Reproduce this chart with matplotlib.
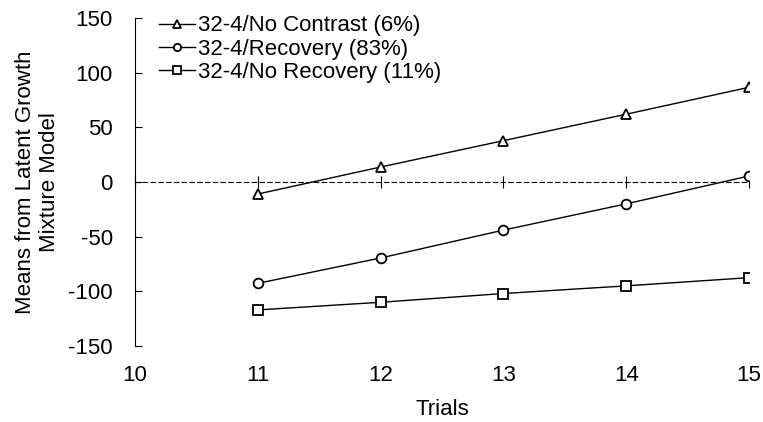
import matplotlib
matplotlib.use('Agg')
import matplotlib.pyplot as plt

plt.rcParams['font.family'] = ['Liberation Sans', 'DejaVu Sans']
plt.rcParams['axes.unicode_minus'] = False

trials = [11, 12, 13, 14, 15]
no_contrast = [-11, 13.7, 37.8, 62, 86.6]
recovery = [-92.7, -69.5, -44, -20, 5.5]
no_recovery = [-117, -110, -102, -95, -87.5]
labels = ['32-4/No Contrast (6%)', '32-4/Recovery (83%)', '32-4/No Recovery (11%)']
x_ticks = [10, 11, 12, 13, 14, 15]
y_ticks = [-150, -100, -50, 0, 50, 100, 150]

fig = plt.figure(figsize=(7.63, 4.22), dpi=100)
ax = fig.add_axes([135/763, 1 - 346/422, (749 - 135)/763, (346 - 18)/422])

for vals, mk, lab in zip([no_contrast, recovery, no_recovery], ['^', 'o', 's'], labels):
    ax.plot(trials, vals, color='black', lw=1, marker=mk, ms=7,
            mfc='white', mec='black', mew=1.3, label=lab)

ax.set_xlim(10, 15)
ax.set_ylim(-150, 150)
ax.set_yticks(y_ticks)
ax.set_xticks(x_ticks)

ax.spines['top'].set_visible(False)
ax.spines['right'].set_visible(False)
ax.spines['bottom'].set_position(('data', 0))
ax.spines['bottom'].set_linestyle((0, (4, 3)))
ax.spines['bottom'].set_linewidth(0.8)
ax.tick_params(axis='x', direction='inout', length=8, width=0.8, labelbottom=False)
ax.tick_params(axis='y', direction='in', length=5, width=0.8, labelsize=16, pad=16)

sec = ax.secondary_xaxis(-0.0)
sec.set_xticks(x_ticks)
sec.spines['bottom'].set_visible(False)
sec.tick_params(length=0, labelsize=16, pad=14)
sec.set_xlabel('Trials', fontsize=16, labelpad=9)

ax.set_ylabel('Means from Latent Growth\nMixture Model', fontsize=16, labelpad=6)

ax.legend(loc='upper left', bbox_to_anchor=(0.025, 1.035), frameon=False, fontsize=16,
          handlelength=1.6, handletextpad=0.15, labelspacing=0.1, borderaxespad=0,
          markerscale=0.75)

fig.savefig('out.png', dpi=100)
